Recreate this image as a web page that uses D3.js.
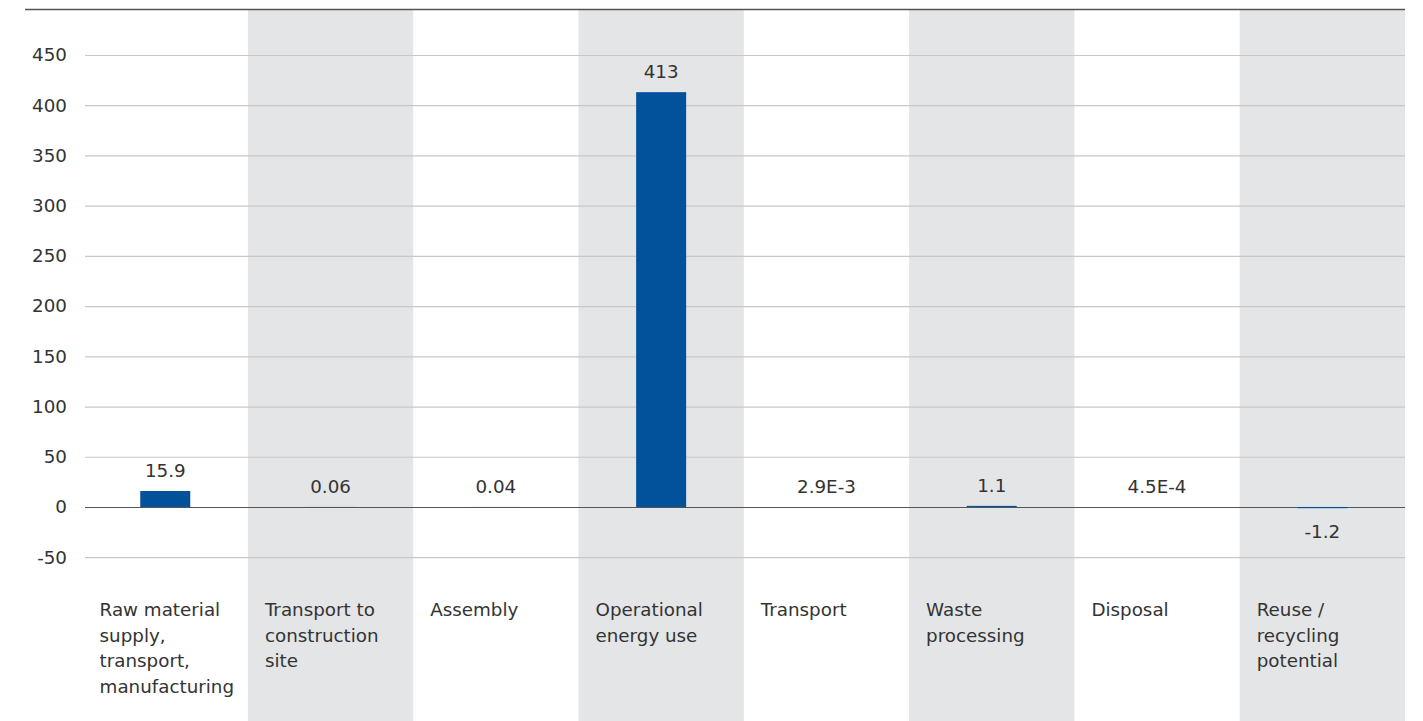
<!DOCTYPE html>
<html>
<head>
<meta charset="utf-8">
<script src="https://cdn.jsdelivr.net/npm/d3@7"></script>
<style>
  body { margin: 0; background: #fff; }
  text { font-family: "DejaVu Sans", sans-serif; fill: #333; }
</style>
</head>
<body>
<svg id="chart" width="1423" height="721"></svg>
<script>
var categories = [
  ["Raw material", "supply,", "transport,", "manufacturing"],
  ["Transport to", "construction", "site"],
  ["Assembly"],
  ["Operational", "energy use"],
  ["Transport"],
  ["Waste", "processing"],
  ["Disposal"],
  ["Reuse /", "recycling", "potential"]
];
var values = [15.9, 0.06, 0.04, 413, 0.0029, 1.1, 0.00045, -1.2];
var valueLabels = ["15.9", "0.06", "0.04", "413", "2.9E-3", "1.1", "4.5E-4", "-1.2"];
var yTicks = [-50, 0, 50, 100, 150, 200, 250, 300, 350, 400, 450];

var W = 1423, H = 721;
var left = 82.6, right = 1405;
var fs = 18.3;
var svg = d3.select("#chart");

var x = d3.scaleBand().domain(d3.range(categories.length)).range([left, right]).padding(0);
var y = d3.scaleLinear().domain([-50, 450]).range([557.2, 55]);

// alternate shaded columns
svg.selectAll("rect.band")
  .data(d3.range(categories.length).filter(function(i){ return i % 2 == 1; }))
  .enter().append("rect")
  .attr("class", "band")
  .attr("x", function(i){ return x(i); })
  .attr("y", 10)
  .attr("width", x.bandwidth())
  .attr("height", H - 10)
  .attr("fill", "#e4e5e7");

// top rule
svg.append("line")
  .attr("x1", 25).attr("x2", right)
  .attr("y1", 9.5).attr("y2", 9.5)
  .attr("stroke", "#555").attr("stroke-width", 1.5);

// grid + y labels
var yAxis = d3.axisLeft(y).tickValues(yTicks).tickFormat(function(d){ return String(d); })
  .tickSize(-(right - 85)).tickPadding(18);
var gy = svg.append("g").attr("transform", "translate(85,0)").call(yAxis);
gy.select(".domain").remove();
gy.selectAll(".tick line")
  .attr("stroke", function(d){ return d == 0 ? "#555" : "#c8c8c8"; })
  .attr("stroke-width", 1.2);
gy.selectAll(".tick text")
  .attr("font-size", fs)
  .attr("font-family", "DejaVu Sans, sans-serif")
  .attr("fill", "#333");
gy.selectAll(".tick").filter(function(d){ return d == 0; }).raise();

var barW = 50;
svg.selectAll("rect.bar")
  .data(values)
  .enter().append("rect")
  .attr("class", "bar")
  .attr("x", function(d, i){ return x(i) + x.bandwidth() / 2 - barW / 2; })
  .attr("y", function(d){ return y(Math.max(d, 0)); })
  .attr("width", barW)
  .attr("height", function(d){ return Math.abs(y(d) - y(0)); })
  .attr("fill", "#01529b");

svg.selectAll("text.val")
  .data(values)
  .enter().append("text")
  .attr("class", "val")
  .attr("x", function(d, i){ return x(i) + x.bandwidth() / 2; })
  .attr("y", function(d){ return d >= 0 ? y(d) - 14 : y(d) + 30; })
  .attr("text-anchor", "middle")
  .attr("font-size", fs)
  .text(function(d, i){ return valueLabels[i]; });

// category labels
var cat = svg.selectAll("text.cat")
  .data(categories)
  .enter().append("text")
  .attr("class", "cat")
  .attr("x", function(d, i){ return x(i) + 17; })
  .attr("y", 616)
  .attr("font-size", fs);
cat.selectAll("tspan")
  .data(function(d){ return d; })
  .enter().append("tspan")
  .attr("x", function(){ return d3.select(this.parentNode).attr("x"); })
  .attr("dy", function(d, j){ return j == 0 ? 0 : 25.5; })
  .text(function(d){ return d; });
</script>
</body>
</html>
